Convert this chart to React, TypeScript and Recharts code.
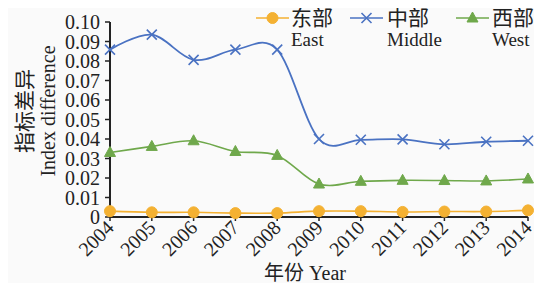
import React from "react";
import { LineChart, Line, XAxis, YAxis, Legend } from "recharts";

const years = ["2004", "2005", "2006", "2007", "2008", "2009", "2010", "2011", "2012", "2013", "2014"];
const east = [0.003, 0.0024, 0.0024, 0.002, 0.002, 0.003, 0.003, 0.0026, 0.0028, 0.0028, 0.0034];
const middle = [0.0858, 0.0935, 0.0806, 0.0858, 0.0858, 0.0400, 0.0396, 0.0398, 0.0373, 0.0386, 0.0391];
const west = [0.0331, 0.0362, 0.0391, 0.0336, 0.0316, 0.0169, 0.0183, 0.0188, 0.0187, 0.0185, 0.0195];
const yTicks = [0, 0.01, 0.02, 0.03, 0.04, 0.05, 0.06, 0.07, 0.08, 0.09, 0.1];

const seriesNames = [
  { key: "east", zh: "东部", en: "East", color: "#F4B132", marker: "circle" },
  { key: "middle", zh: "中部", en: "Middle", color: "#4A72C2", marker: "x" },
  { key: "west", zh: "西部", en: "West", color: "#6FA84B", marker: "triangle" },
];

const data = years.map((y, i) => ({ year: y, east: east[i], middle: middle[i], west: west[i] }));

const FONT = '"Liberation Serif", "DejaVu Serif", "Noto Sans CJK SC", serif';

// Cardinal (Catmull-Rom like) curve factory, similar to spreadsheet smoothing
function makeCardinal(context: any) {
  const k = 1 / 6;
  const c: any = {
    _context: context,
    _line: NaN,
    _point: 0,
    _x0: NaN, _x1: NaN, _x2: NaN, _y0: NaN, _y1: NaN, _y2: NaN,
  };
  const pt = (x: number, y: number) => {
    c._context.bezierCurveTo(
      c._x1 + k * (c._x2 - c._x0),
      c._y1 + k * (c._y2 - c._y0),
      c._x2 + k * (c._x1 - x),
      c._y2 + k * (c._y1 - y),
      c._x2,
      c._y2
    );
  };
  c.areaStart = () => { c._line = 0; };
  c.areaEnd = () => { c._line = NaN; };
  c.lineStart = () => {
    c._x0 = c._x1 = c._x2 = c._y0 = c._y1 = c._y2 = NaN;
    c._point = 0;
  };
  c.lineEnd = () => {
    switch (c._point) {
      case 2: c._context.lineTo(c._x2, c._y2); break;
      case 3: pt(c._x1, c._y1); break;
    }
    if (c._line || (c._line !== 0 && c._point === 1)) c._context.closePath();
    c._line = 1 - c._line;
  };
  c.point = (x: number, y: number) => {
    x = +x; y = +y;
    switch (c._point) {
      case 0: c._point = 1; c._line ? c._context.lineTo(x, y) : c._context.moveTo(x, y); break;
      case 1: c._point = 2; c._x1 = x; c._y1 = y; break;
      case 2: c._point = 3; pt(x, y); break;
      default: pt(x, y); break;
    }
    c._x0 = c._x1; c._x1 = c._x2; c._x2 = x;
    c._y0 = c._y1; c._y1 = c._y2; c._y2 = y;
  };
  return c;
}

function Marker({ kind, cx, cy, color }: { kind: string; cx: number; cy: number; color: string }) {
  if (kind === "circle") return <circle cx={cx} cy={cy} r={5.5} fill={color} stroke={color} />;
  if (kind === "x")
    return (
      <path
        d={`M${cx - 5},${cy - 5}L${cx + 5},${cy + 5}M${cx - 5},${cy + 5}L${cx + 5},${cy - 5}`}
        stroke={color}
        strokeWidth={1.6}
        fill="none"
      />
    );
  return <path d={`M${cx},${cy - 6}L${cx + 5.5},${cy + 4}L${cx - 5.5},${cy + 4}Z`} fill={color} stroke={color} />;
}

const dotFor = (kind: string, color: string) => (p: any) =>
  <Marker key={`${kind}-${p.index}`} kind={kind} cx={p.cx} cy={p.cy} color={color} />;

const XTick = (p: any) => {
  const { x, payload } = p;
  const ax = x + 5;
  const ay = 229;
  return (
    <text
      x={ax}
      y={ay}
      textAnchor="end"
      transform={`rotate(-45 ${ax} ${ay})`}
      fontFamily={FONT}
      fontSize={20}
      fill="#222"
    >
      {payload.value}
    </text>
  );
};

const LegendContent = () => {
  const pos = [
    { line: 256, w: 33, text: 291 },
    { line: 350, w: 33, text: 387 },
    { line: 456, w: 33, text: 492 },
  ];
  return (
    <div style={{ position: "relative", width: 542, height: 52 }}>
      {seriesNames.map((s, i) => (
        <div key={s.key}>
          <svg
            width={40}
            height={20}
            style={{ position: "absolute", left: pos[i].line, top: 8 }}
          >
            <line x1={0} y1={10} x2={pos[i].w} y2={10} stroke={s.color} strokeWidth={1.6} />
            <Marker kind={s.marker} cx={pos[i].w / 2} cy={10} color={s.color} />
          </svg>
          <div
            style={{
              position: "absolute",
              left: pos[i].text,
              top: 6,
              fontFamily: FONT,
              fontSize: 21,
              lineHeight: "24px",
              color: "#222",
              whiteSpace: "nowrap",
            }}
          >
            {s.zh}
          </div>
          <div
            style={{
              position: "absolute",
              left: pos[i].text,
              top: 29,
              fontFamily: FONT,
              fontSize: 19,
              lineHeight: "22px",
              color: "#222",
              whiteSpace: "nowrap",
            }}
          >
            {s.en}
          </div>
        </div>
      ))}
    </div>
  );
};

export default function App() {
  return (
    <div
      style={{
        position: "relative",
        width: 542,
        height: 291,
        margin: "-8px 0 -8px -8px",
        overflow: "hidden",
      }}
    >
      <div style={{ position: "absolute", left: 7, top: 7, right: 0, bottom: 3, background: "#fafafa" }} />
      <div style={{ position: "absolute", left: 0, top: 0 }}>
        <LineChart
          width={542}
          height={291}
          data={data}
          margin={{ top: 22, right: 14, left: 0, bottom: 0 }}
        >
          <XAxis
            dataKey="year"
            height={74}
            tick={<XTick />}
            tickSize={4}
            tickLine={{ stroke: "#222", strokeWidth: 1.5 }}
            axisLine={{ stroke: "#222", strokeWidth: 2 }}
            interval={0}
            label={{
              content: () => (
                <text
                  x={305}
                  y={280}
                  textAnchor="middle"
                  fontFamily={FONT}
                  fontSize={20}
                  fill="#222"
                >
                  年份 Year
                </text>
              ),
            }}
          />
          <YAxis
            width={110}
            domain={[0, 0.1]}
            ticks={yTicks}
            interval={0}
            tickSize={5}
            tickMargin={5}
            tickFormatter={(v: number) => (v === 0 ? "0" : v.toFixed(2))}
            tick={{ fontFamily: FONT, fontSize: 20, fill: "#222" }}
            tickLine={{ stroke: "#222", strokeWidth: 1.5 }}
            axisLine={{ stroke: "#222", strokeWidth: 2 }}
            label={{
              content: () => {
                const cy = 111;
                return (
                  <g>
                    <text
                      x={25}
                      y={cy}
                      textAnchor="middle"
                      dominantBaseline="central"
                      transform={`rotate(-90 25 ${cy})`}
                      fontFamily={FONT}
                      fontSize={21}
                      fill="#222"
                    >
                      指标差异
                    </text>
                    <text
                      x={48}
                      y={cy}
                      textAnchor="middle"
                      dominantBaseline="central"
                      transform={`rotate(-90 48 ${cy})`}
                      fontFamily={FONT}
                      fontSize={20}
                      fill="#222"
                    >
                      Index difference
                    </text>
                  </g>
                );
              },
            }}
          />
          <Legend
            layout="horizontal"
            verticalAlign="middle"
            align="center"
            content={<LegendContent />}
            wrapperStyle={{ top: 0, left: 0, width: 542, height: 52 }}
          />
          <Line
            dataKey="east"
            name="东部 East"
            stroke="#F4B132"
            strokeWidth={1.6}
            type={makeCardinal as any}
            dot={dotFor("circle", "#F4B132")}
            activeDot={false}
            isAnimationActive={false}
          />
          <Line
            dataKey="middle"
            name="中部 Middle"
            stroke="#4A72C2"
            strokeWidth={1.8}
            type={makeCardinal as any}
            dot={dotFor("x", "#4A72C2")}
            activeDot={false}
            isAnimationActive={false}
          />
          <Line
            dataKey="west"
            name="西部 West"
            stroke="#6FA84B"
            strokeWidth={1.6}
            type={makeCardinal as any}
            dot={dotFor("triangle", "#6FA84B")}
            activeDot={false}
            isAnimationActive={false}
          />
        </LineChart>
      </div>
    </div>
  );
}
